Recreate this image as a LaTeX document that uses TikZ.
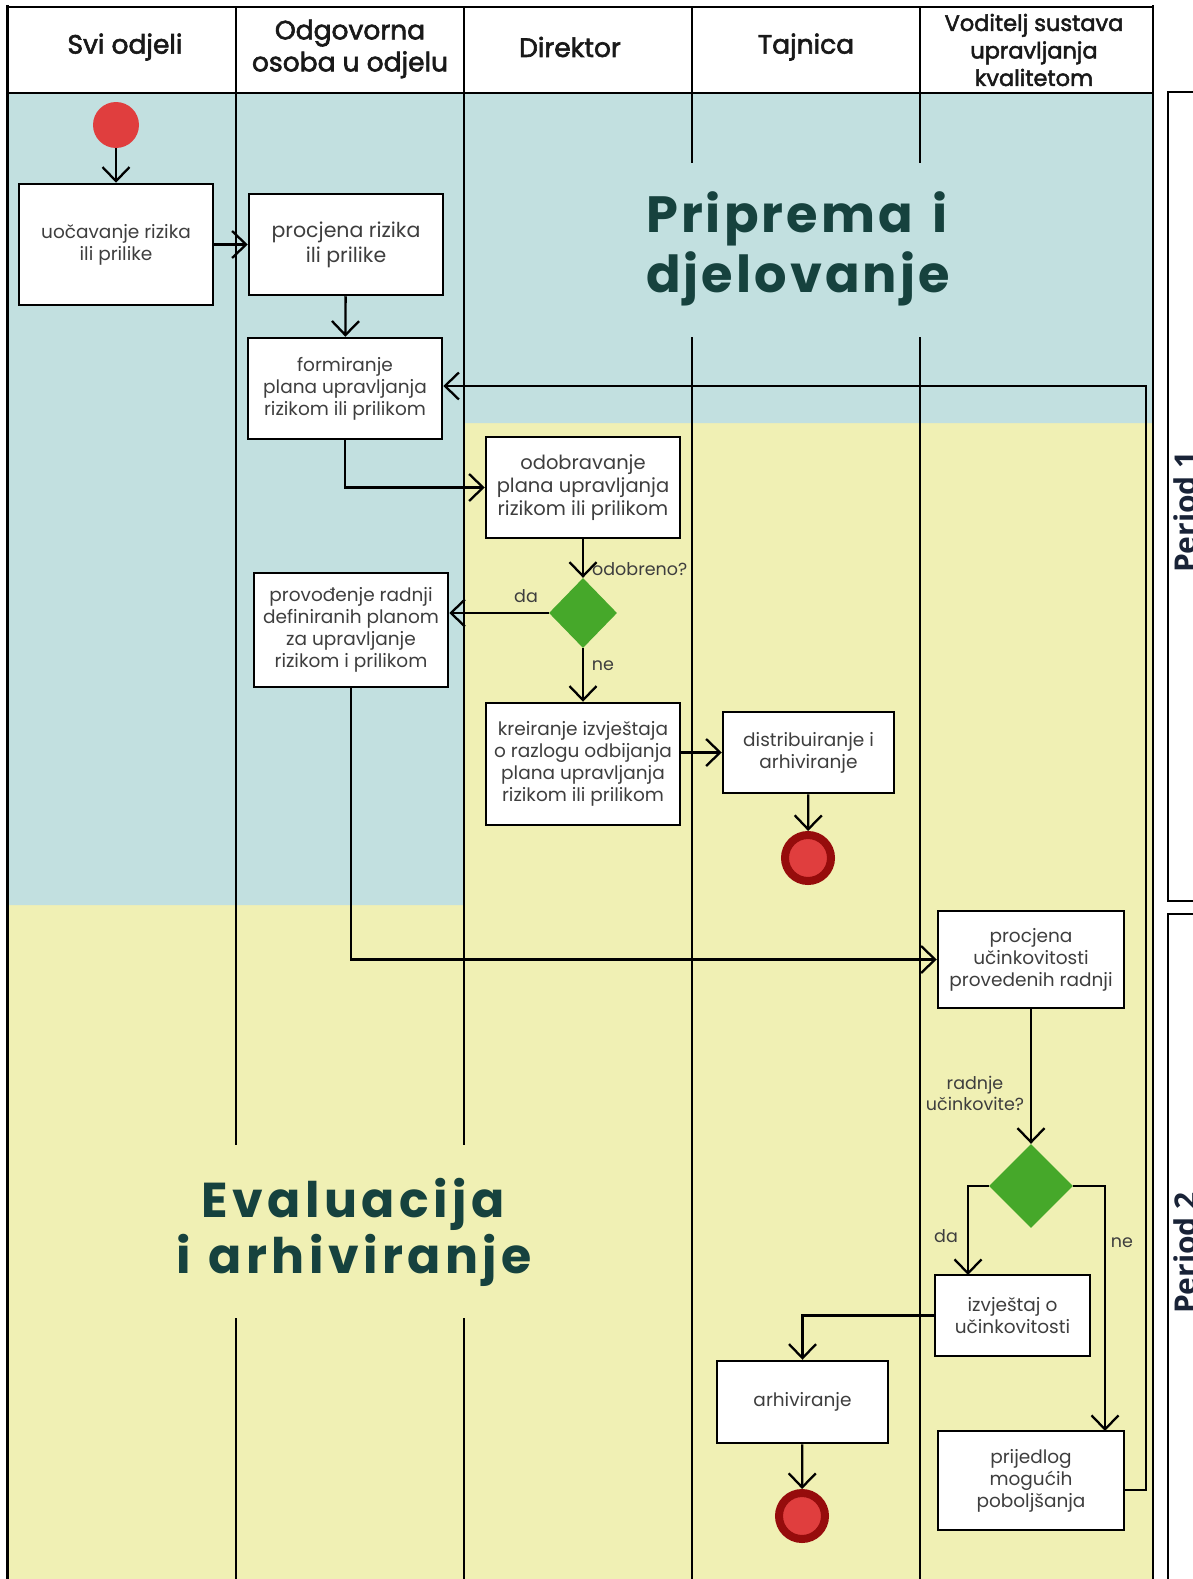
\documentclass[tikz,border=0pt]{standalone}
\usepackage{fontspec}
\setmainfont{Poppins}
\newfontfamily\hdfont{Poppins}[FakeBold=2.2]
\newfontfamily\ttlfont{Poppins}
\newfontfamily\perfont{Open Sans}
\usetikzlibrary{arrows.meta,shapes.geometric}
\definecolor{bluebg}{RGB}{194,224,224}
\definecolor{yelbg}{RGB}{240,240,180}
\definecolor{ttlc}{RGB}{22,66,62}
\definecolor{txtc}{RGB}{62,62,62}
\definecolor{redc}{RGB}{224,62,62}
\definecolor{darkred}{RGB}{150,12,12}
\definecolor{grn}{RGB}{70,168,42}
\definecolor{navy}{RGB}{25,35,55}
\begin{document}
\begin{tikzpicture}[x=1pt,y=-1pt,
  box/.style={draw=black,line width=2.5pt,fill=white,align=center,inner sep=0pt,
    font=\fontsize{18.5}{22}\selectfont,text=txtc},
  arr/.style={line width=2.3pt,-{Straight Barb[length=14pt,width=27pt,line width=2.3pt]}},
  lane/.style={line width=2.5pt},
  lbl/.style={font=\fontsize{17.5}{21}\selectfont,text=txtc,inner sep=0pt},
  hd/.style={font=\hdfont\fontsize{26.5}{32}\selectfont,align=center,text=black!90,inner sep=0pt},
  dec/.style={diamond,fill=grn,inner sep=0pt,draw=none},
  startc/.style={circle,fill=redc,inner sep=0pt,minimum size=46pt},
  endc/.style={circle,fill=redc,draw=darkred,line width=8pt,inner sep=0pt,minimum size=46pt},
  ttl/.style={text=ttlc,inner sep=0pt},
  per/.style={font=\perfont\bfseries\fontsize{30}{30}\selectfont,text=navy,rotate=90,anchor=base,inner sep=0pt}]
\useasboundingbox (0,0) rectangle (1193,1579);
\fill[white] (0,0) rectangle (1193,1579);
% backgrounds
\fill[yelbg] (7,93) rectangle (1153,1579);
\fill[bluebg] (7,93) -- (1153,93) -- (1153,423) -- (464,423) -- (464,905) -- (7,905) -- cycle;
% period boxes
\draw[line width=2.3pt] (1200,92) -- (1168,92) -- (1168,901) -- (1200,901);
\draw[line width=2.3pt] (1200,914) -- (1168,914) -- (1168,1590);
\node[per] (p1) at (1196,512) {Period 1};
\node[per] (p2) at (1196,1253) {Period 2};
% frame and lanes
\draw[lane] (7,7) -- (1153,7);
\draw[lane] (7,93) -- (1153,93);
\draw[line width=3pt] (7,5.5) -- (7,1590);
\draw[lane] (1153,5.5) -- (1153,1590);
\draw[lane] (236,7) -- (236,1145);
\draw[lane] (236,1318) -- (236,1590);
\draw[lane] (464,7) -- (464,1145);
\draw[lane] (464,1318) -- (464,1590);
\draw[lane] (692,7) -- (692,163);
\draw[lane] (692,337) -- (692,1590);
\draw[lane] (920,7) -- (920,163);
\draw[lane] (920,337) -- (920,1590);
% headers
\node[hd] (h1) at (125,47) {Svi odjeli};
\node[hd] (h2) at (350,49) {Odgovorna\\osoba u odjelu};
\node[hd] (h3) at (570,47) {Direktor};
\node[hd] (h4) at (806,47) {Tajnica};
\node[hd,font=\hdfont\fontsize{22.5}{27.5}\selectfont] (h5) at (1034,50) {Voditelj sustava\\upravljanja\\kvalitetom};
% titles
\node[ttl,anchor=base west,font=\ttlfont\bfseries\fontsize{51}{60}\selectfont\addfontfeature{LetterSpace=6}] (t1) at (646,232) {Priprema\ \hspace{6pt}i};
\node[ttl,anchor=base west,font=\ttlfont\bfseries\fontsize{51}{60}\selectfont\addfontfeature{LetterSpace=6}] (t2) at (646,292) {djelovanje};
\node[ttl,anchor=base,font=\ttlfont\bfseries\fontsize{49}{56}\selectfont\addfontfeature{LetterSpace=9}] (t3) at (353,1217) {Evaluacija};
\node[ttl,anchor=base,font=\ttlfont\bfseries\fontsize{49}{56}\selectfont\addfontfeature{LetterSpace=9}] (t4) at (354,1273) {i\ \hspace{3pt}arhiviranje};
% nodes
\node[startc] (start) at (116,125) {};
\node[box,minimum width=194pt,minimum height=121pt] (uoc) at (116,244.5) {uočavanje rizika\\ili prilike};
\node[box,minimum width=194pt,minimum height=101pt,font=\fontsize{20.5}{25}\selectfont] (proc1) at (346,244.5) {procjena rizika\\ili prilike};
\node[box,minimum width=194pt,minimum height=101pt] (form) at (345,388.5) {formiranje\\plana upravljanja\\rizikom ili prilikom};
\node[box,minimum width=194pt,minimum height=101pt,font=\fontsize{19.5}{23}\selectfont] (odob) at (583,487.5) {odobravanje\\plana upravljanja\\rizikom ili prilikom};
\node[dec,minimum width=68pt,minimum height=70pt] (d1) at (583,613) {};
\node[box,minimum width=194pt,minimum height=114pt] (prov) at (351,630) {provođenje radnji\\definiranih planom\\za upravljanje\\rizikom i prilikom};
\node[box,minimum width=194pt,minimum height=122pt] (kreir) at (583,764) {kreiranje izvještaja\\o razlogu odbijanja\\plana upravljanja\\rizikom ili prilikom};
\node[box,minimum width=171pt,minimum height=81pt] (dist) at (808.5,752.5) {distribuiranje i\\arhiviranje};
\node[endc] (end1) at (808,858) {};
\node[box,minimum width=186pt,minimum height=97pt] (proc2) at (1031,959.5) {procjena\\učinkovitosti\\provedenih radnji};
\node[dec,minimum width=84pt,minimum height=84pt] (d2) at (1031,1186) {};
\node[box,minimum width=155pt,minimum height=81pt] (izv) at (1012.5,1315.5) {izvještaj o\\učinkovitosti};
\node[box,minimum width=171pt,minimum height=82pt] (arh) at (802.5,1402) {arhiviranje};
\node[box,minimum width=186pt,minimum height=99pt] (prij) at (1031,1480.5) {prijedlog\\mogućih\\poboljšanja};
\node[endc] (end2) at (802,1516) {};
% labels
\node[lbl,anchor=west] (l1) at (592,569) {odobreno?};
\node[lbl] (l2) at (526,596) {da};
\node[lbl] (l3) at (603,666) {ne};
\node[lbl,align=center] (l4) at (975,1093) {radnje\\učinkovite?};
\node[lbl] (l5) at (946,1236) {da};
\node[lbl] (l6) at (1122,1243) {ne};
% helper coordinates
\coordinate (izvin) at (968,1275);
\coordinate (prijin) at (1105,1431);
\coordinate (fb1) at (1146,1490);
\coordinate (fb2) at (1146,386);
% connectors
\draw[arr] (start) -- (uoc);
\draw[arr] (uoc) -- (proc1);
\draw[arr] (proc1) -- (form);
\draw[arr] (form.south) |- (odob.west);
\draw[arr] (odob) -- (d1);
\draw[arr] (d1.west) -- (d1.west -| prov.east);
\draw[arr] (d1.south) -- (kreir.north);
\draw[arr] (kreir.east |- dist.west) -- (dist.west);
\draw[arr] (dist) -- (end1);
\draw[arr] (prov.south) |- (proc2.west);
\draw[arr] (proc2) -- (d2);
\draw[arr] (d2.west) -| (izvin);
\draw[arr] (d2.east) -| (prijin);
\draw[arr] (izv.west) -| (arh.north);
\draw[arr] (arh) -- (end2);
\draw[arr] (prij.east |- fb1) -- (fb1) -- (fb2) -- (form.east |- fb2);
\end{tikzpicture}
\end{document}
